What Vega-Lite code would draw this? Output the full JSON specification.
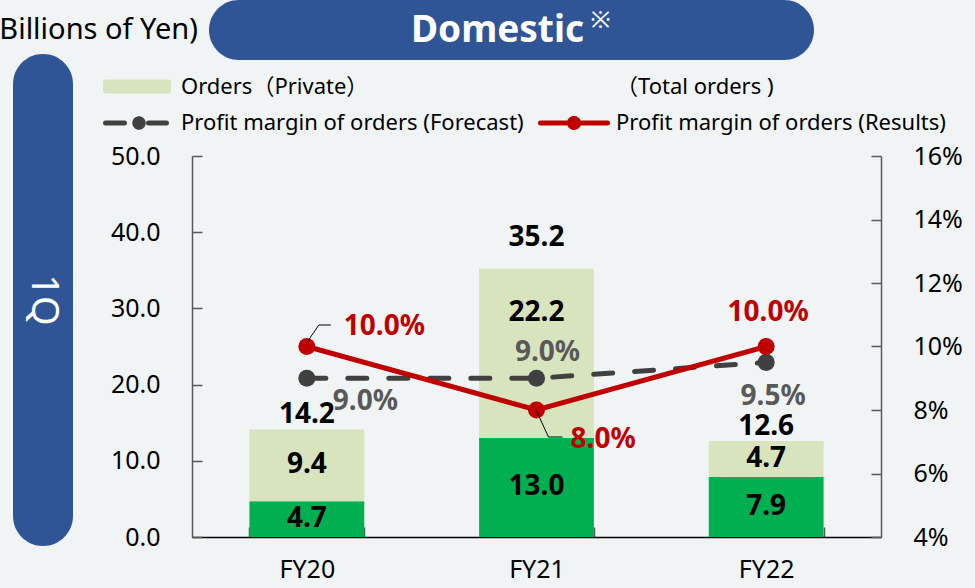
{
"$schema": "https://vega.github.io/schema/vega-lite/v6.json",
"background": "#f0f4f5",
"padding": {"left": -10, "top": 0, "right": 13, "bottom": 6},
"config": {"font": "Noto Sans, Noto Sans CJK JP", "view": {"stroke": null}, "axis": {"grid": false}},
"datasets": {
 "orders": [
   {"year": "FY20", "series": "Orders (Public)", "value": 4.7},
   {"year": "FY20", "series": "Orders（Private）", "value": 9.4},
   {"year": "FY21", "series": "Orders (Public)", "value": 13.0},
   {"year": "FY21", "series": "Orders（Private）", "value": 22.2},
   {"year": "FY22", "series": "Orders (Public)", "value": 7.9},
   {"year": "FY22", "series": "Orders（Private）", "value": 4.7}
 ],
 "totals": [
   {"year": "FY20", "total": 14.2},
   {"year": "FY21", "total": 35.2},
   {"year": "FY22", "total": 12.6}
 ],
 "margins": [
   {"year": "FY20", "series": "Profit margin of orders (Forecast)", "value": 0.09},
   {"year": "FY21", "series": "Profit margin of orders (Forecast)", "value": 0.09},
   {"year": "FY22", "series": "Profit margin of orders (Forecast)", "value": 0.095},
   {"year": "FY20", "series": "Profit margin of orders (Results)", "value": 0.10},
   {"year": "FY21", "series": "Profit margin of orders (Results)", "value": 0.08},
   {"year": "FY22", "series": "Profit margin of orders (Results)", "value": 0.10}
 ]
},
"columns": 2,
"align": "none",
"bounds": "flush",
"spacing": {"row": -6, "column": 119},
"concat": [
 {
  "width": 77, "height": 60,
  "data": {"values": [{}]},
  "mark": {"type": "text", "text": "(Billions of Yen)", "align": "right", "baseline": "middle", "dx": 146.5, "fontSize": 29, "color": "#000000"}
 },
 {
  "width": 605, "height": 60,
  "view": {"fill": "#2f5597", "cornerRadius": 30, "stroke": null},
  "data": {"values": [{}]},
  "layer": [
   {"mark": {"type": "text", "text": "Domestic", "dx": -14, "dy": 1, "align": "center", "baseline": "middle", "fontSize": 37, "fontWeight": "bold", "color": "#ffffff"}},
   {"mark": {"type": "text", "text": "※", "dx": 89, "dy": -9, "align": "center", "baseline": "middle", "fontSize": 24, "color": "#ffffff"}}
  ]
 },
 {
  "width": 60, "height": 492,
  "view": {"fill": "#2f5597", "cornerRadius": 30, "stroke": null},
  "data": {"values": [{}]},
  "mark": {"type": "text", "text": "1Q", "angle": 90, "align": "center", "baseline": "middle", "fontSize": 38, "color": "#ffffff"}
 },
 {
  "width": 672, "height": 483,
  "resolve": {"scale": {"y": "independent"}, "axis": {"y": "independent"}},
  "encoding": {
   "x": {"field": "year", "type": "nominal", "title": null,
     "scale": {"range": [-17, 672], "paddingInner": 0.5, "paddingOuter": 0.25},
     "axis": {"title": null, "labelAngle": 0, "labelFontSize": 25, "labelColor": "#000000", "labelPadding": 30, "tickSize": -10, "tickBand": "extent", "tickColor": "#595959", "tickWidth": 1.5, "domainColor": "#000000", "domainWidth": 1.5}}
  },
  "layer": [
   {
    "data": {"name": "orders"},
    "transform": [
     {"stack": "value", "groupby": ["year"], "sort": [{"field": "series", "order": "ascending"}], "as": ["v0", "v1"]},
     {"calculate": "datum.year === 'FY21' && datum.series === 'Orders（Private）' ? datum.v0 + 0.74 * datum.value : (datum.v0 + datum.v1) / 2", "as": "labelPos"}
    ],
    "layer": [
     {
      "mark": {"type": "bar"},
      "encoding": {
       "y": {"field": "v1", "type": "quantitative", "scale": {"domain": [0, 50], "range": [483, 102], "nice": false}, "axis": {"title": null, "orient": "left", "offset": 17, "values": [0, 10, 20, 30, 40, 50], "format": ".1f", "tickSize": -10, "labelPadding": 42, "domainColor": "#595959", "domainWidth": 1.5, "tickColor": "#595959", "tickWidth": 1.5, "labelFontSize": 25, "labelColor": "#000000", "grid": false, "labelFlush": false}},
       "y2": {"field": "v0"},
       "color": {"field": "series", "type": "nominal",
        "scale": {"domain": ["Orders（Private）", "（Total orders )", "Profit margin of orders (Forecast)", "Profit margin of orders (Results)", "Orders (Public)"], "range": ["#d7e4bd", "#f0f4f5", "#404040", "#c00000", "#00b050"]},
        "legend": {"orient": "none", "legendX": 90, "legendY": 73.5, "columns": 2, "direction": "horizontal", "title": null,
         "values": ["Orders（Private）", "（Total orders )", "Profit margin of orders (Forecast)", "Profit margin of orders (Results)"],
         "labelFontSize": 22, "labelColor": "#000000", "labelLimit": 600, "labelOffset": 53, "symbolOffset": 0, "symbolSize": 400, "symbolStrokeWidth": 5, "rowPadding": 6, "columnPadding": 6, "padding": 0,
         "encode": {"symbols": {"update": {
           "shape": {"signal": "datum.value === 'Orders（Private）' ? 'M-1.0,-0.45H5.3V0.45H-1.0Z' : (datum.value === 'Profit margin of orders (Forecast)' ? 'M-1.0,0H0.9M2.77,0A0.42,0.42,0,1,1,1.93,0A0.42,0.42,0,1,1,2.77,0ZM3.3,0H5.1' : 'M-1.0,0H5.7M2.8,0A0.45,0.45,0,1,1,1.9,0A0.45,0.45,0,1,1,2.8,0Z')"},
           "strokeWidth": {"value": 5},
           "strokeCap": {"value": "round"},
           "strokeDash": {"value": [1, 0]},
           "size": {"value": 400},
           "opacity": {"value": 1}
         }}}
        }
       }
      }
     },
     {
      "mark": {"type": "text", "baseline": "middle", "align": "center", "fontSize": 28, "fontWeight": "bold", "color": "#000000"},
      "encoding": {
       "y": {"field": "labelPos", "type": "quantitative", "scale": {"domain": [0, 50], "range": [483, 102], "nice": false}, "axis": {"title": null, "orient": "left", "offset": 17, "values": [0, 10, 20, 30, 40, 50], "format": ".1f", "tickSize": -10, "labelPadding": 42, "domainColor": "#595959", "domainWidth": 1.5, "tickColor": "#595959", "tickWidth": 1.5, "labelFontSize": 25, "labelColor": "#000000", "grid": false, "labelFlush": false}},
       "text": {"field": "value", "type": "quantitative", "format": ".1f"}
      }
     },
     {
      "data": {"name": "totals"},
      "transform": [{"filter": "datum.year !== 'FY21'"}],
      "mark": {"type": "text", "baseline": "middle", "align": "center", "fontSize": 28, "fontWeight": "bold", "color": "#000000", "dy": -14},
      "encoding": {
       "y": {"field": "total", "type": "quantitative", "scale": {"domain": [0, 50], "range": [483, 102], "nice": false}, "axis": {"title": null, "orient": "left", "offset": 17, "values": [0, 10, 20, 30, 40, 50], "format": ".1f", "tickSize": -10, "labelPadding": 42, "domainColor": "#595959", "domainWidth": 1.5, "tickColor": "#595959", "tickWidth": 1.5, "labelFontSize": 25, "labelColor": "#000000", "grid": false, "labelFlush": false}},
       "text": {"field": "total", "type": "quantitative", "format": ".1f"}
      }
     },
     {
      "data": {"name": "totals"},
      "transform": [{"filter": "datum.year === 'FY21'"}],
      "mark": {"type": "text", "baseline": "middle", "align": "center", "fontSize": 28, "fontWeight": "bold", "color": "#000000", "dy": -31},
      "encoding": {
       "y": {"field": "total", "type": "quantitative", "scale": {"domain": [0, 50], "range": [483, 102], "nice": false}, "axis": {"title": null, "orient": "left", "offset": 17, "values": [0, 10, 20, 30, 40, 50], "format": ".1f", "tickSize": -10, "labelPadding": 42, "domainColor": "#595959", "domainWidth": 1.5, "tickColor": "#595959", "tickWidth": 1.5, "labelFontSize": 25, "labelColor": "#000000", "grid": false, "labelFlush": false}},
       "text": {"field": "total", "type": "quantitative", "format": ".1f"}
      }
     }
    ]
   },
   {
    "data": {"name": "margins"},
    "encoding": {
     "y": {"field": "value", "type": "quantitative", "scale": {"domain": [0.04, 0.16], "range": [483, 102], "nice": false, "zero": false}, "axis": {"title": null, "orient": "right", "values": [0.04, 0.06, 0.08, 0.10, 0.12, 0.14, 0.16], "format": ".0%", "tickSize": -10, "labelPadding": 42, "domainColor": "#595959", "domainWidth": 1.5, "tickColor": "#595959", "tickWidth": 1.5, "labelFontSize": 25, "labelColor": "#000000", "grid": false, "labelFlush": false}}
    },
    "layer": [
     {
      "transform": [{"filter": "datum.series === 'Profit margin of orders (Forecast)'"}],
      "mark": {"type": "line", "strokeWidth": 5, "strokeDash": [19, 22], "strokeCap": "round"},
      "encoding": {"color": {"field": "series", "type": "nominal",
        "scale": {"domain": ["Orders（Private）", "（Total orders )", "Profit margin of orders (Forecast)", "Profit margin of orders (Results)", "Orders (Public)"], "range": ["#d7e4bd", "#f0f4f5", "#404040", "#c00000", "#00b050"]}}}
     },
     {
      "transform": [{"filter": "datum.series === 'Profit margin of orders (Results)'"}],
      "mark": {"type": "line", "strokeWidth": 5},
      "encoding": {"color": {"field": "series", "type": "nominal",
        "scale": {"domain": ["Orders（Private）", "（Total orders )", "Profit margin of orders (Forecast)", "Profit margin of orders (Results)", "Orders (Public)"], "range": ["#d7e4bd", "#f0f4f5", "#404040", "#c00000", "#00b050"]}}}
     },
     {
      "mark": {"type": "point", "filled": true, "size": 290, "opacity": 1},
      "encoding": {"color": {"field": "series", "type": "nominal",
        "scale": {"domain": ["Orders（Private）", "（Total orders )", "Profit margin of orders (Forecast)", "Profit margin of orders (Results)", "Orders (Public)"], "range": ["#d7e4bd", "#f0f4f5", "#404040", "#c00000", "#00b050"]}}}
     },
     {
      "transform": [{"filter": "datum.year === 'FY20' && datum.series === 'Profit margin of orders (Results)'"}],
      "mark": {"type": "rule", "color": "#000000", "strokeWidth": 1, "yOffset": -4, "x2Offset": 12, "y2Offset": -21.5},
      "encoding": {"x2": {"field": "year"}, "y2": {"field": "value"}}
     },
     {
      "transform": [{"filter": "datum.year === 'FY20' && datum.series === 'Profit margin of orders (Results)'"}],
      "mark": {"type": "rule", "color": "#000000", "strokeWidth": 1, "xOffset": 12, "yOffset": -21.5, "x2Offset": 24, "y2Offset": -21.5},
      "encoding": {"x2": {"field": "year"}, "y2": {"field": "value"}}
     },
     {
      "transform": [{"filter": "datum.year === 'FY21' && datum.series === 'Profit margin of orders (Results)'"}],
      "mark": {"type": "rule", "color": "#000000", "strokeWidth": 1, "yOffset": 1, "x2Offset": 12, "y2Offset": 27},
      "encoding": {"x2": {"field": "year"}, "y2": {"field": "value"}}
     },
     {
      "transform": [{"filter": "datum.year === 'FY21' && datum.series === 'Profit margin of orders (Results)'"}],
      "mark": {"type": "rule", "color": "#000000", "strokeWidth": 1, "xOffset": 12, "yOffset": 27, "x2Offset": 26, "y2Offset": 27},
      "encoding": {"x2": {"field": "year"}, "y2": {"field": "value"}}
     },
     {
      "transform": [{"filter": "datum.year === 'FY20' && datum.series === 'Profit margin of orders (Results)'"}],
      "mark": {"type": "text", "align": "left", "baseline": "middle", "dx": 37, "dy": -20, "fontSize": 28, "fontWeight": "bold", "color": "#c00000"},
      "encoding": {"text": {"field": "value", "type": "quantitative", "format": ".1%"}}
     },
     {
      "transform": [{"filter": "datum.year === 'FY21' && datum.series === 'Profit margin of orders (Results)'"}],
      "mark": {"type": "text", "align": "left", "baseline": "middle", "dx": 34, "dy": 30, "fontSize": 28, "fontWeight": "bold", "color": "#c00000"},
      "encoding": {"text": {"field": "value", "type": "quantitative", "format": ".1%"}}
     },
     {
      "transform": [{"filter": "datum.year === 'FY22' && datum.series === 'Profit margin of orders (Results)'"}],
      "mark": {"type": "text", "align": "center", "baseline": "middle", "dx": 2, "dy": -34, "fontSize": 28, "fontWeight": "bold", "color": "#c00000"},
      "encoding": {"text": {"field": "value", "type": "quantitative", "format": ".1%"}}
     },
     {
      "transform": [{"filter": "datum.year === 'FY20' && datum.series === 'Profit margin of orders (Forecast)'"}],
      "mark": {"type": "text", "align": "left", "baseline": "middle", "dx": 26, "dy": 24, "fontSize": 28, "fontWeight": "bold", "color": "#595959"},
      "encoding": {"text": {"field": "value", "type": "quantitative", "format": ".1%"}}
     },
     {
      "transform": [{"filter": "datum.year === 'FY21' && datum.series === 'Profit margin of orders (Forecast)'"}],
      "mark": {"type": "text", "align": "center", "baseline": "middle", "dx": 11, "dy": -25, "fontSize": 28, "fontWeight": "bold", "color": "#595959"},
      "encoding": {"text": {"field": "value", "type": "quantitative", "format": ".1%"}}
     },
     {
      "transform": [{"filter": "datum.year === 'FY22' && datum.series === 'Profit margin of orders (Forecast)'"}],
      "mark": {"type": "text", "align": "center", "baseline": "middle", "dx": 7, "dy": 35, "fontSize": 28, "fontWeight": "bold", "color": "#595959"},
      "encoding": {"text": {"field": "value", "type": "quantitative", "format": ".1%"}}
     }
    ]
   }
  ]
 }
]
}
